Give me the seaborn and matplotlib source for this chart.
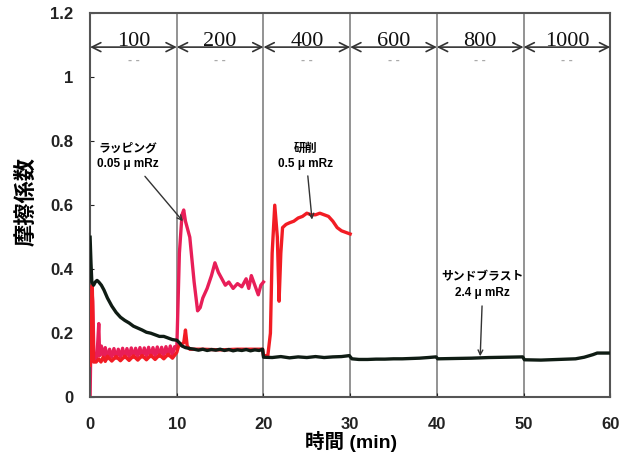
import numpy as np
import pandas as pd
import matplotlib
matplotlib.use('Agg')
import matplotlib.pyplot as plt
import seaborn as sns

# friction coefficient vs time, load steps every 10 min
loads = ['100', '200', '400', '600', '800', '1000']
bounds = [0, 10, 20, 30, 40, 50, 60]
y_ticks = [0, 0.2, 0.4, 0.6, 0.8, 1, 1.2]
x_ticks = [0, 10, 20, 30, 40, 50, 60]

# sandblast 2.4 um Rz (black)
sand_t = [0.0, 0.1, 0.2, 0.4, 0.6, 0.8, 1.0, 1.3, 1.6, 2.0, 2.5, 3.0, 3.5, 4.0,
          4.5, 5.0, 5.5, 6.0, 6.5, 7.0, 7.5, 8.0, 8.5, 9.0, 9.5, 10.0, 10.3,
          10.6, 11.0, 11.5, 12.0, 12.5, 13.0, 13.5, 14.0, 14.5, 15.0, 15.5,
          16.0, 16.5, 17.0, 17.5, 18.0, 18.5, 19.0, 19.5, 19.9,
          20.0, 21.0, 22.0, 23.0, 24.0, 25.0, 26.0, 27.0, 28.0, 29.0, 29.9,
          30.2, 31.0, 32.0, 33.0, 34.0, 35.0, 36.0, 37.0, 38.0, 39.0, 39.9,
          40.1, 42.0, 44.0, 46.0, 48.0, 49.9,
          50.1, 52.0, 54.0, 56.0, 57.0, 58.0, 58.5, 60.0]
sand_mu = [0.50, 0.42, 0.36, 0.35, 0.36, 0.365, 0.36, 0.35, 0.335, 0.31, 0.285,
           0.265, 0.25, 0.24, 0.232, 0.222, 0.216, 0.21, 0.203, 0.20, 0.195,
           0.19, 0.19, 0.185, 0.18, 0.178, 0.17, 0.16, 0.155, 0.152, 0.15,
           0.147, 0.15, 0.146, 0.149, 0.147, 0.15, 0.146, 0.149, 0.145, 0.148,
           0.146, 0.149, 0.145, 0.148, 0.146, 0.15,
           0.125, 0.124, 0.127, 0.123, 0.126, 0.124, 0.127, 0.124, 0.126,
           0.127, 0.13,
           0.12, 0.118, 0.118, 0.119, 0.119, 0.12, 0.12, 0.121, 0.122, 0.124,
           0.126,
           0.12, 0.121, 0.122, 0.124, 0.125, 0.126,
           0.117, 0.116, 0.118, 0.12, 0.125, 0.133, 0.138, 0.138]

# lapping 0.05 um Rz (crimson)
lap_t = [0.0, 0.05, 0.1, 0.2, 0.3, 0.45, 0.6, 0.8, 1.0, 1.1, 1.3, 1.6,
         1.75, 2.0, 2.25, 2.5, 2.75, 3.0, 3.25, 3.5, 3.75, 4.0, 4.25, 4.5,
         4.75, 5.0, 5.25, 5.5, 5.75, 6.0, 6.25, 6.5, 6.75, 7.0, 7.25, 7.5,
         7.75, 8.0, 8.25, 8.5, 8.75, 9.0, 9.25, 9.5, 9.75, 10.0,
         10.3, 10.6, 10.8, 11.0, 11.5, 12.0, 12.4, 12.7, 13.0, 13.5, 14.0,
         14.4, 14.8, 15.2, 15.6, 16.0, 16.5, 17.0, 17.5, 18.0, 18.3, 18.6,
         19.0, 19.4, 19.7, 20.0]
lap_mu = [0.00, 0.10, 0.12, 0.34, 0.30, 0.12, 0.115, 0.13, 0.23, 0.13, 0.16,
          0.12, 0.155, 0.12, 0.15, 0.125, 0.152, 0.122, 0.15, 0.125, 0.153,
          0.124, 0.152, 0.126, 0.154, 0.125, 0.153, 0.127, 0.155, 0.126,
          0.154, 0.128, 0.156, 0.127, 0.155, 0.129, 0.157, 0.128, 0.156,
          0.13, 0.158, 0.13, 0.16, 0.132, 0.158, 0.15,
          0.45, 0.57, 0.585, 0.55, 0.50, 0.36, 0.27, 0.28, 0.31, 0.34, 0.38,
          0.42, 0.39, 0.37, 0.35, 0.36, 0.34, 0.355, 0.345, 0.37, 0.34, 0.38,
          0.35, 0.32, 0.35, 0.36]

# grinding 0.5 um Rz (red)
grind_t = [0.0, 0.15, 0.25, 0.4, 0.7, 1.0, 1.25, 1.5, 1.75, 2.0, 2.5, 3.0,
           3.5, 4.0, 4.5, 5.0, 5.5, 6.0, 6.5, 7.0, 7.5, 8.0, 8.5, 9.0, 9.5,
           10.0, 10.2, 10.8, 11.0, 11.2, 11.5, 13.0, 15.0, 17.0, 19.9,
           20.0, 20.5, 20.8, 21.0, 21.3, 21.6, 21.8, 22.0, 22.2, 22.6, 23.0,
           23.5, 24.0, 24.5, 25.0, 25.5, 26.0, 26.5, 27.0, 27.5, 28.0, 28.5,
           29.0, 29.5, 30.0]
grind_mu = [0.10, 0.25, 0.35, 0.11, 0.11, 0.12, 0.11, 0.125, 0.112, 0.128,
            0.113, 0.127, 0.114, 0.128, 0.115, 0.129, 0.116, 0.13, 0.117,
            0.131, 0.118, 0.132, 0.12, 0.134, 0.122, 0.14, 0.16, 0.17, 0.21,
            0.16, 0.15, 0.15, 0.148, 0.15, 0.15,
            0.13, 0.13, 0.20, 0.45, 0.60, 0.50, 0.30, 0.45, 0.53, 0.54, 0.545,
            0.55, 0.56, 0.565, 0.575, 0.57, 0.57, 0.575, 0.57, 0.565, 0.55,
            0.53, 0.52, 0.515, 0.51]

plt.rcParams['font.family'] = ['Liberation Sans', 'Noto Sans CJK JP', 'DejaVu Sans']

fig = plt.figure(figsize=(6.39, 4.55), dpi=100)
ax = fig.add_axes([0.141, 0.127, 0.814, 0.844])

# load step separators
for b in bounds[1:-1]:
    ax.axvline(b, color='#808080', lw=1.2, zorder=1)

sns.lineplot(x=lap_t, y=lap_mu, ax=ax, color='#e81e58', lw=2.4,
             sort=False, estimator=None, zorder=2)
sns.lineplot(x=grind_t, y=grind_mu, ax=ax, color='#f21c24', lw=2.4,
             sort=False, estimator=None, zorder=3)
sns.lineplot(x=sand_t, y=sand_mu, ax=ax, color='#0f1c14', lw=2.4,
             sort=False, estimator=None, zorder=4)

ax.set_xlim(0, 60)
ax.set_ylim(0, 1.2)
ax.set_xticks(x_ticks)
ax.set_yticks(y_ticks)
ax.set_xticklabels([str(v) for v in x_ticks], fontweight='bold', fontsize=12)
ax.set_yticklabels(['0', '0.2', '0.4', '0.6', '0.8', '1', '1.2'],
                   fontweight='bold', fontsize=12)
ax.tick_params(axis='x', direction='in', length=3, pad=14, colors='#222')
ax.tick_params(axis='y', direction='in', length=3, pad=12, colors='#222')
for s in ax.spines.values():
    s.set_color('#555')
    s.set_linewidth(1.5)
ax.set_xlabel('')
ax.set_ylabel('')

# load labels with double arrows
for i, lab in enumerate(loads):
    x0, x1 = bounds[i], bounds[i + 1]
    ax.annotate('', xy=(x1, 1.094), xytext=(x0, 1.094),
                arrowprops=dict(arrowstyle='<->', lw=1.2, color='#333',
                                shrinkA=0, shrinkB=0, mutation_scale=16))
    ax.text((x0 + x1) / 2, 1.096, lab, ha='center', va='baseline',
            fontsize=16, family='Liberation Serif', color='#111')
    ax.text((x0 + x1) / 2, 1.05, '- -', ha='center', va='center',
            fontsize=9, color='#aaa', fontweight='bold')

# annotations
ax.annotate('ラッピング\n0.05 μ mRz', xy=(10.7, 0.55), xytext=(4.4, 0.752),
            ha='center', va='center', fontsize=8.5, fontweight='bold',
            linespacing=1.4,
            arrowprops=dict(arrowstyle='->', lw=1, color='#333',
                            shrinkA=3, shrinkB=0))
ax.annotate('研削\n0.5 μ mRz', xy=(25.6, 0.555), xytext=(24.9, 0.752),
            ha='center', va='center', fontsize=8.5, fontweight='bold',
            linespacing=1.4,
            arrowprops=dict(arrowstyle='->', lw=1, color='#333',
                            shrinkA=2, shrinkB=0))
ax.annotate('サンドブラスト\n2.4 μ mRz', xy=(45.0, 0.128), xytext=(45.3, 0.35),
            ha='center', va='center', fontsize=8.5, fontweight='bold',
            linespacing=1.4,
            arrowprops=dict(arrowstyle='->', lw=1, color='#333',
                            shrinkA=3, shrinkB=0))

fig.text(0.477, 0.029, '時間 (min)', ha='left', va='center',
         fontsize=14, fontweight='bold')
fig.text(0.042, 0.558, '摩擦係数', ha='center', va='center', rotation=90,
         fontsize=16, fontweight='bold')

fig.savefig('out.png', dpi=100)
